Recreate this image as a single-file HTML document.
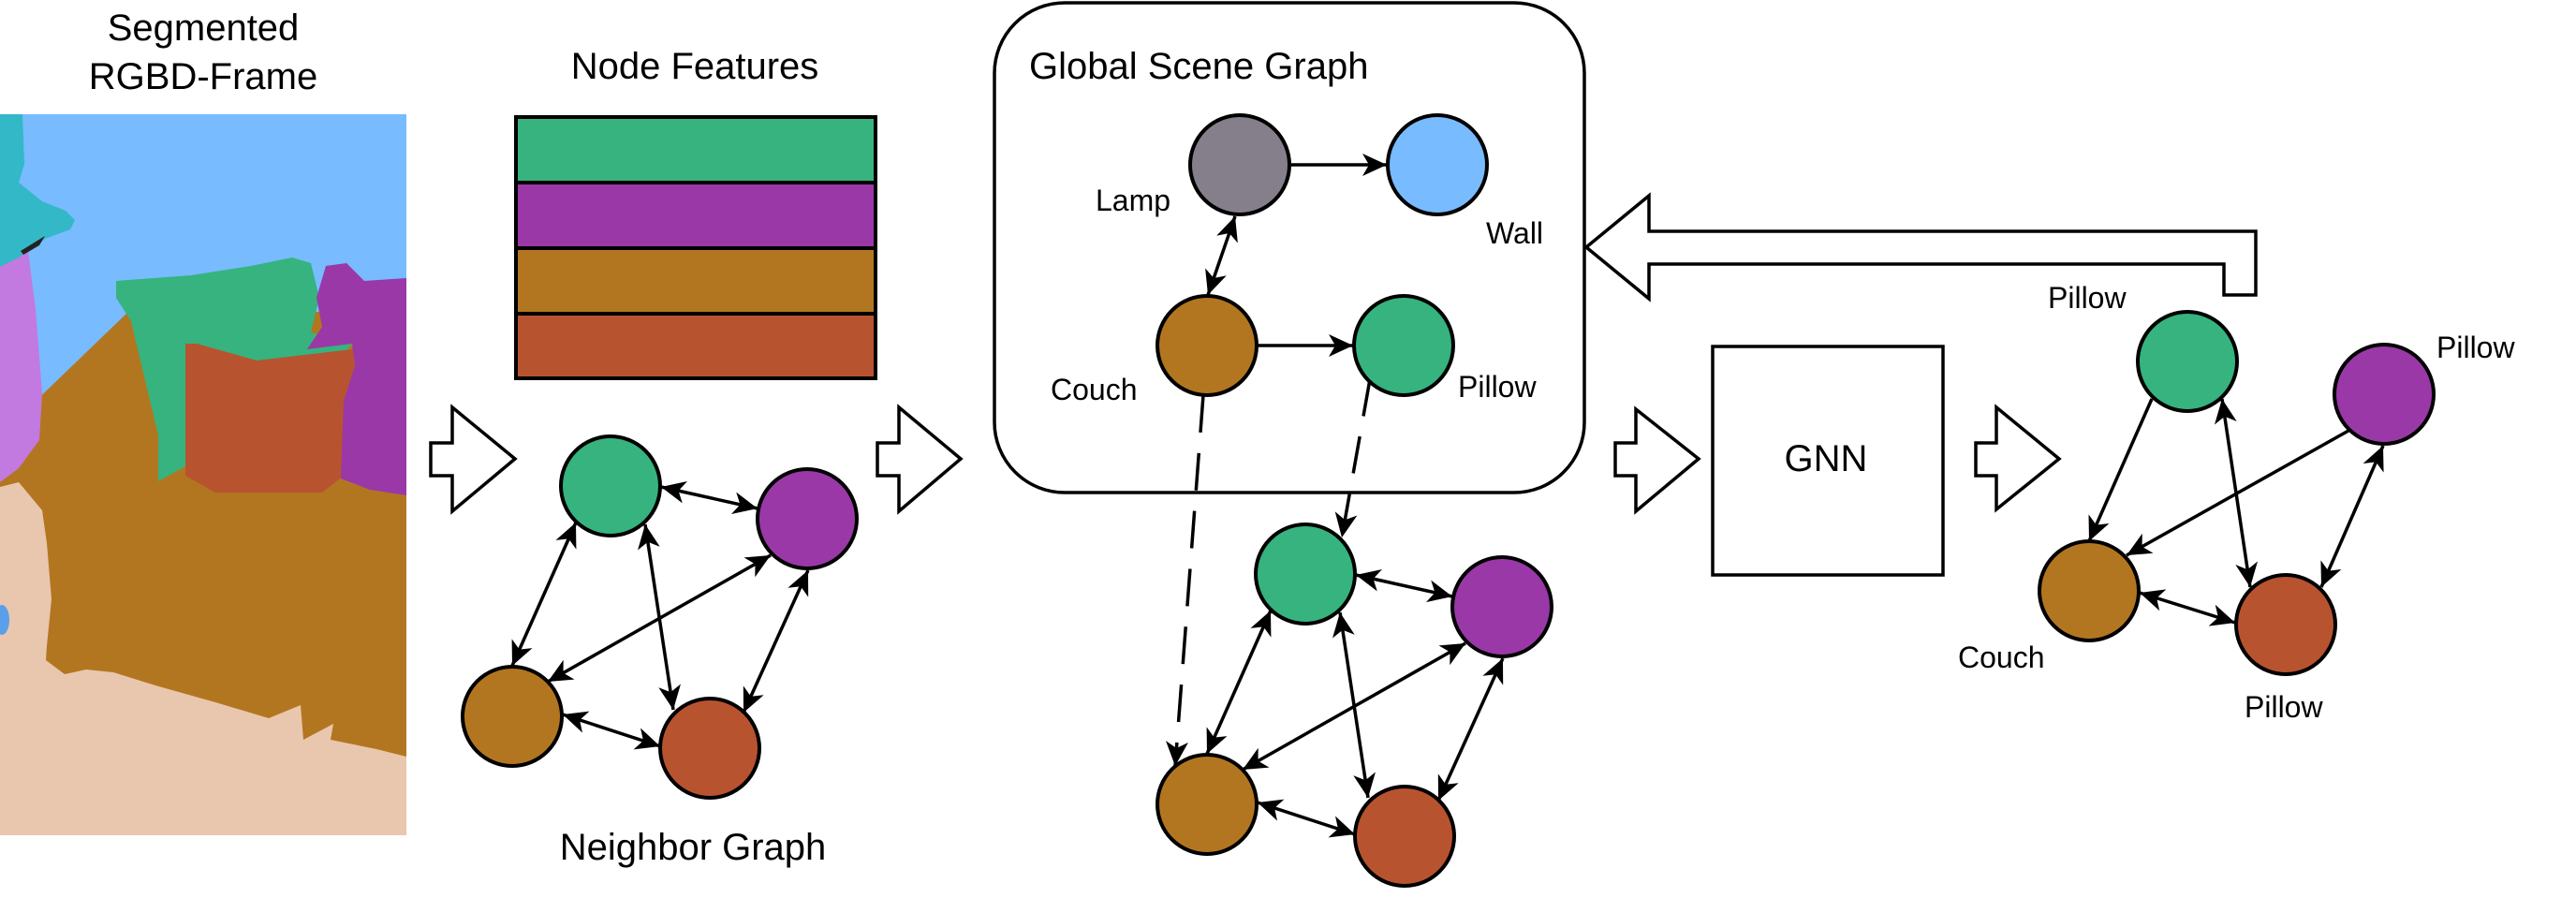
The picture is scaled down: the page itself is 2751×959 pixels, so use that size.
<!DOCTYPE html>
<html><head><meta charset="utf-8"><style>
html,body{margin:0;padding:0;background:#fff;}
svg{display:block;}
text{font-family:"Liberation Sans",Arial,sans-serif;fill:#000;}
</style></head><body>
<svg id="s" width="2751" height="959" viewBox="0 0 2751 959" xmlns="http://www.w3.org/2000/svg">
<defs>
<marker id="ah" markerUnits="userSpaceOnUse" markerWidth="28" markerHeight="24" refX="26" refY="12" orient="auto-start-reverse">
<path d="M0,0 L26,12 L0,24 L7,12 z" fill="#000"/>
</marker>
</defs>
<!-- photo -->
<rect x="0" y="122" width="434" height="770" fill="#78bbff"/>
<polygon fill="#b37620" points="0,465 137,333 434,333 434,808 0,808"/>
<polygon fill="#c27ae0" points="0,270 30,268 38,330 45,420 42,470 20,500 0,515"/>
<polygon fill="#c27ae0" points="0,545 15,560 25,610 15,620 0,615"/>
<polygon fill="#33b8c8" points="0,122 24,122 26,175 20,195 45,215 70,225 80,235 75,245 48,255 35,265 20,275 0,285"/>
<polygon fill="#222" points="22,268 48,252 42,262 25,272"/>
<polygon fill="#e9c7ae" points="0,520 20,515 45,545 50,580 55,640 50,690 49,705 69,720 92,715 121,718 166,732 230,750 287,767 321,753 324,790 356,773 353,790 402,800 434,808 434,892 0,892"/>
<ellipse cx="2" cy="662" rx="8" ry="16" fill="#5aa0e8"/>
<polygon fill="#36b37e" points="124,300 204,294 268,284 312,275 332,281 341,318 332,355 376,367 364,382 293,394 274,385 210,367 201,373 198,498 169,514 169,465 153,398 140,343 124,318"/>
<polygon fill="#b85330" points="198,367 210,367 274,385 376,373 383,349 395,385 370,428 367,508 344,526 230,526 198,508"/>
<polygon fill="#9a38a8" points="348,284 370,281 389,300 434,297 434,529 395,523 364,511 367,428 379,391 376,367 328,373 344,349 338,318"/>

<text x="217" y="43" font-size="40" text-anchor="middle">Segmented</text>
<text x="217" y="95" font-size="40" text-anchor="middle">RGBD-Frame</text>
<text x="742" y="84" font-size="40" text-anchor="middle">Node Features</text>
<g stroke="#000" stroke-width="4">
<rect x="551" y="125" width="384" height="70" fill="#36b37e"/>
<rect x="551" y="195" width="384" height="70" fill="#9a38a8"/>
<rect x="551" y="265" width="384" height="70" fill="#b37620"/>
<rect x="551" y="335" width="384" height="69" fill="#b85330"/>
</g>
<text x="740" y="918" font-size="40" text-anchor="middle">Neighbor Graph</text>

<g fill="#fff" stroke="#000" stroke-width="3.5">
<polygon points="460,473 483,473 483,435 550,490 483,546 483,508 460,508"/>
<polygon points="937,473 960,473 960,435 1026,490 960,546 960,508 937,508"/>
<polygon points="1725,473 1747,473 1747,437 1814,490 1747,546 1747,508 1725,508"/>
<polygon points="2110,473 2132,473 2132,435 2199,490 2132,544 2132,508 2110,508"/>
<polygon points="1694,264 1761,209 1761,247 2409,247 2409,315 2375,315 2375,282 1761,282 1761,319"/>
</g>

<rect x="1062" y="3" width="630" height="523" rx="75" ry="75" fill="none" stroke="#000" stroke-width="3.5"/>
<text x="1099" y="84" font-size="40">Global Scene Graph</text>
<text x="1170" y="225" font-size="32">Lamp</text>
<text x="1587" y="260" font-size="32">Wall</text>
<text x="1122" y="427" font-size="32">Couch</text>
<text x="1557" y="424" font-size="32">Pillow</text>

<rect x="1829" y="370" width="246" height="244" fill="#fff" stroke="#000" stroke-width="3.5"/>
<text x="1950" y="503" font-size="40" text-anchor="middle">GNN</text>

<text x="2187" y="329" font-size="32">Pillow</text>
<text x="2602" y="382" font-size="32">Pillow</text>
<text x="2091" y="713" font-size="32">Couch</text>
<text x="2397" y="766" font-size="32">Pillow</text>

<g id="edges" stroke="#000" stroke-width="3.5" fill="none"></g>
<g stroke="#000" stroke-width="3.5" fill="none" stroke-dasharray="40,22">
<path d="M1285,422 L1255,818" marker-end="url(#ah)"/>
<path d="M1463,405 L1433,574" marker-end="url(#ah)"/>
</g>
<g id="nodes" stroke="#000" stroke-width="4"></g>
</svg>
<script>
var NS="http://www.w3.org/2000/svg",R=53;
var E=document.getElementById("edges"),N=document.getElementById("nodes");
function node(x,y,c){var e=document.createElementNS(NS,"circle");e.setAttribute("cx",x);e.setAttribute("cy",y);e.setAttribute("r",R);e.setAttribute("fill",c);N.appendChild(e);}
function ln(x1,y1,x2,y2,both){var l=document.createElementNS(NS,"line");
l.setAttribute("x1",x1);l.setAttribute("y1",y1);l.setAttribute("x2",x2);l.setAttribute("y2",y2);
l.setAttribute("marker-end","url(#ah)");if(both)l.setAttribute("marker-start","url(#ah)");E.appendChild(l);}
var G="#36b37e",P="#9a38a8",B="#b37620",Ru="#b85330";
function quad(ox,oy){
ln(706+ox,520+oy,809+ox,543+oy,1);
ln(615+ox,558+oy,547+ox,711+oy,1);
ln(689+ox,560+oy,719+ox,758+oy,1);
ln(823+ox,593+oy,585+ox,728+oy,1);
ln(863+ox,609+oy,794+ox,761+oy,1);
ln(601+ox,763+oy,705+ox,797+oy,1);
node(652+ox,519+oy,G);node(862+ox,554+oy,P);node(547+ox,765+oy,B);node(758+ox,799+oy,Ru);}
quad(0,0);quad(742,94);
ln(1377,176,1481,176,0);
ln(1342,369,1445,369,0);
ln(1319,231,1290,315,1);
node(1324,176,"#857f8b");node(1535,176,"#78bbff");node(1289,369,B);node(1499,369,G);
ln(2298,426,2231,578,0);
ln(2508,460,2271,593,0);
ln(2373,426,2403,627,1);
ln(2545,476,2479,627,1);
ln(2285,633,2387,665,1);
node(2336,386,G);node(2546,421,P);node(2231,631,B);node(2441,667,Ru);
</script>
</body></html>
